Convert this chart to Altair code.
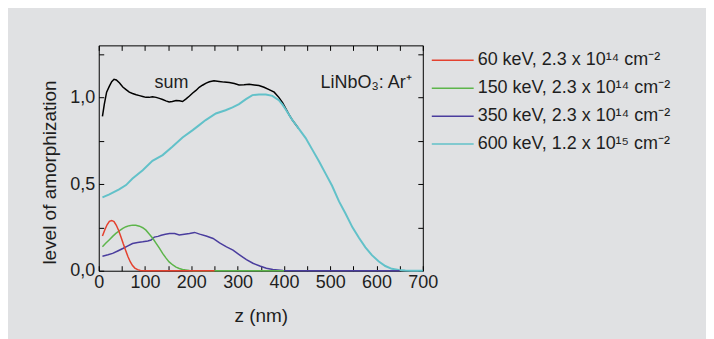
import altair as alt
import pandas as pd

FONT = "Liberation Sans"
TXT = "#1e1e1e"

series_names = [
    "\u200560 keV, 2.3 x 10\u00b9\u2074 cm\u207b\u00b2",
    "150 keV, 2.3 x 10\u00b9\u2074 cm\u207b\u00b2",
    "350 keV, 2.3 x 10\u00b9\u2074 cm\u207b\u00b2",
    "600 keV, 1.2 x 10\u00b9\u2075 cm\u207b\u00b2",
]
series_colors = ["#e4412f", "#5db54b", "#4a3d9e", "#62c1c9"]

z_60 = [8, 13, 18, 23, 28, 33, 38, 43, 48, 53, 58, 63, 68, 73, 78, 84, 90, 100, 150, 200, 250]
v_60 = [0.2, 0.235, 0.265, 0.285, 0.29, 0.283, 0.262, 0.232, 0.195, 0.155, 0.118, 0.082,
        0.052, 0.03, 0.015, 0.006, 0.001, 0, 0, 0, 0]

z_150 = [8, 15, 23, 30, 37, 45, 52, 59, 66, 73, 80, 88, 95, 102, 109, 117, 124, 131, 138, 145,
         152, 160, 167, 174, 181, 188, 196, 203, 250, 300, 350, 400]
v_150 = [0.138, 0.158, 0.179, 0.198, 0.215, 0.231, 0.244, 0.254, 0.26, 0.263, 0.262, 0.257,
         0.248, 0.234, 0.212, 0.186, 0.158, 0.13, 0.1, 0.074, 0.051, 0.033, 0.021, 0.013,
         0.007, 0.004, 0.001, 0, 0, 0, 0, 0]

z_350 = [8, 20, 30, 41, 52, 62, 73, 84, 95, 106, 113, 120, 128, 135, 144, 153, 164, 174, 185,
         196, 207, 218, 232, 247, 261, 276, 290, 304, 319, 333, 348, 362, 376, 398, 450, 500,
         560, 600, 650]
v_350 = [0.084, 0.092, 0.1, 0.114, 0.128, 0.142, 0.157, 0.163, 0.167, 0.172, 0.177, 0.194,
         0.198, 0.205, 0.21, 0.215, 0.215, 0.206, 0.211, 0.215, 0.221, 0.211, 0.2, 0.186,
         0.16, 0.138, 0.119, 0.092, 0.064, 0.043, 0.027, 0.014, 0.007, 0.001, 0, 0, 0, 0, 0]

z_600 = [8, 23, 44, 59, 73, 95, 116, 138, 159, 181, 203, 217, 231, 253, 274, 289, 303, 318,
         332, 346, 361, 375, 389, 397, 404, 411, 418, 425, 432, 447, 461, 476, 490, 504, 519,
         533, 548, 562, 576, 590, 605, 619, 633, 648, 662, 676, 700]
v_600 = [0.423, 0.44, 0.469, 0.494, 0.532, 0.58, 0.634, 0.667, 0.715, 0.769, 0.811, 0.84,
         0.869, 0.907, 0.926, 0.942, 0.961, 0.99, 1.013, 1.016, 1.017, 1.009, 0.984, 0.958,
         0.93, 0.9, 0.87, 0.845, 0.82, 0.765, 0.7, 0.63, 0.56, 0.49, 0.40, 0.33, 0.25, 0.19,
         0.135, 0.09, 0.053, 0.027, 0.011, 0.004, 0.001, 0, 0]

z_sum = [8, 12, 17, 23, 28, 33, 38, 45, 52, 59, 66, 73, 81, 88, 95, 102, 109, 116, 124, 131,
         138, 145, 152, 159, 167, 174, 181, 188, 196, 203, 210, 217, 224, 232, 239, 249, 260,
         271, 282, 293, 303, 314, 325, 336, 346, 357, 368, 379, 389, 397, 404, 411, 418, 425,
         432]
v_sum = [0.89, 0.96, 1.03, 1.065, 1.09, 1.104, 1.1, 1.083, 1.06, 1.045, 1.03, 1.022, 1.015,
         1.01, 1.005, 1.0, 1.0, 1.003, 1.0, 0.994, 0.988, 0.98, 0.974, 0.976, 0.982, 0.98,
         0.976, 0.99, 1.008, 1.025, 1.04, 1.058, 1.07, 1.082, 1.09, 1.096, 1.092, 1.088,
         1.086, 1.08, 1.072, 1.073, 1.076, 1.072, 1.068, 1.058, 1.045, 1.03, 1.0, 0.97,
         0.935, 0.9, 0.87, 0.845, 0.82]

notes_text = ["sum", "LiNbO\u2083: Ar\u207a"]
notes_z = [157, 676]
notes_v = [1.052, 1.052]
notes_align = ["center", "right"]

x_ticks = list(range(0, 701, 50))
y_ticks = [0, 0.25, 0.5, 0.75, 1.0, 1.25]

W, H = 325, 226

xs = alt.Scale(domain=[0, 700], nice=False, zero=False)
ys = alt.Scale(domain=[0, 1.3], nice=False, zero=False)

axis_common = dict(domain=False, grid=False, tickSize=5, offset=-5, tickColor="black",
                   tickWidth=1, labelFont=FONT, titleFont=FONT, labelFontSize=18,
                   titleFontSize=19, labelColor=TXT, titleColor=TXT, titleFontWeight="normal",
                   labelFlush=False, labelOverlap=False)

x_bottom = alt.Axis(orient="bottom", title="z (nm)", values=x_ticks,
                    labelExpr="datum.value % 100 == 0 ? datum.label : ''",
                    labelPadding=3, titleY=50, titleBaseline="middle", **axis_common)
y_left = alt.Axis(orient="left", title="level of amorphization", values=y_ticks,
                  labelExpr="round(datum.value*100) % 50 == 0 ? replace(format(datum.value, '.1f'), '.', ',') : ''",
                  labelPadding=4, titleX=-54, titleY=127, titleBaseline="middle",
                  **axis_common)
x_top = alt.Axis(orient="top", title=None, values=x_ticks, labels=False, **axis_common)
y_right = alt.Axis(orient="right", title=None, values=y_ticks, labels=False, **axis_common)

color = alt.Color("series:N", scale=alt.Scale(domain=series_names, range=series_colors),
                  legend=alt.Legend(title=None, orient="none", legendX=346, legendY=6,
                                    symbolType="M-3,0H3", symbolSize=196,
                                    symbolStrokeWidth=1.5, symbolFillColor="transparent",
                                    labelFont=FONT,
                                    labelFontSize=18, labelColor=TXT, labelOffset=16,
                                    labelLimit=400, rowPadding=10, padding=0))

sum_df = pd.DataFrame({"z": z_sum, "v": v_sum})
sum_layer = alt.Chart(sum_df).mark_line(color="black", strokeWidth=1.5).encode(
    x=alt.X("z:Q", scale=xs, axis=x_top),
    y=alt.Y("v:Q", scale=ys, axis=y_right),
)

zs = [z_60, z_150, z_350, z_600]
vs = [v_60, v_150, v_350, v_600]
widths = [1.5, 1.5, 1.5, 2.0]

series_layers = []
for i in [3, 2, 1, 0]:
    df = pd.DataFrame({"z": zs[i], "v": vs[i], "series": series_names[i]})
    first = (i == 3)
    series_layers.append(
        alt.Chart(df).mark_line(strokeWidth=widths[i]).encode(
            x=alt.X("z:Q", scale=xs, axis=x_bottom if first else None),
            y=alt.Y("v:Q", scale=ys, axis=y_left if first else None),
            color=color,
        )
    )

notes_df = pd.DataFrame({"z": notes_z, "v": notes_v, "t": notes_text, "a": notes_align})
note_layers = []
for a in ["center", "right"]:
    note_layers.append(
        alt.Chart(notes_df).transform_filter(alt.datum.a == a).mark_text(
            font=FONT, fontSize=18, color=TXT, align=a, baseline="alphabetic"
        ).encode(
            x=alt.X("z:Q", scale=xs, axis=None),
            y=alt.Y("v:Q", scale=ys, axis=None),
            text="t:N",
        )
    )

chart = alt.layer(sum_layer, *series_layers, *note_layers).resolve_axis(
    x="independent", y="independent"
).properties(
    width=W, height=H,
    autosize=alt.AutoSizeParams(type="none"),
    padding={"left": 91, "top": 37, "right": 700 - 91 - W, "bottom": 331 - 37 - H},
    background="#e0e1e3",
).configure_view(stroke="black", strokeWidth=1)

chart.save("out.html", embed_options={"renderer": "svg", "actions": False})
